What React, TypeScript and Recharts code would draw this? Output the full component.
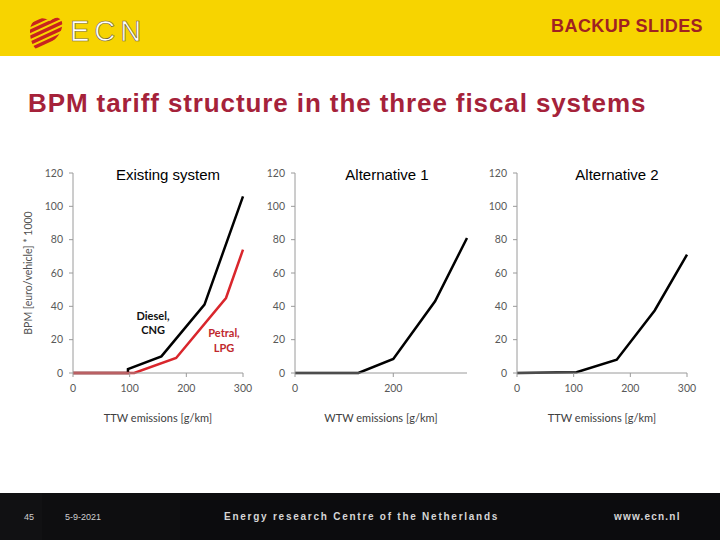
import { LineChart, Line, XAxis, YAxis } from 'recharts'

// Existing system (TTW, g/km -> BPM k euro)
const dieselX = [0, 97, 97, 156, 232, 300]
const dieselY = [0, 0, 2.4, 10, 41, 106]
const petrolX = [0, 108, 182, 270, 300]
const petrolY = [0, 0, 9, 45, 74]

// Alternative 1 (WTW)
const alt1X = [0, 129, 200, 285, 350]
const alt1Y = [0, 0, 8.4, 43, 81]

// Alternative 2 (TTW)
const alt2X = [0, 105, 176, 243, 300]
const alt2Y = [0, 0.5, 8, 37.5, 71]

const yTicks = [0, 20, 40, 60, 80, 100, 120]
const ttwTicks = [0, 100, 200, 300]
const wtwTicks = [0, 200]

const FONT = 'Liberation Sans, Arial, sans-serif'
const AXIS_FONT = 'Lato, Open Sans, sans-serif'
const RED = '#d9262c'
const MAROON = '#a5223a'

function toPoints(xs: number[], ys: number[]) {
  return xs.map((x, i) => ({ x, y: ys[i] }))
}

interface Series {
  data: { x: number; y: number }[]
  color: string
}

interface PanelProps {
  left: number
  plotLeft: number
  plotRight: number
  rightPad: number
  xMax: number
  xTicks: number[]
  xLabel: string
  yLabel?: string
  series: Series[]
}

function Panel({ left, plotLeft, plotRight, rightPad, xMax, xTicks, xLabel, yLabel, series }: PanelProps) {
  const width = plotRight - left + rightPad
  const tick = { fill: '#595959', fontSize: 10.5, fontFamily: AXIS_FONT }
  return (
    <div style={{ position: 'absolute', left, top: 160 }}>
      <LineChart width={width} height={270} margin={{ top: 13, right: rightPad, left: 0, bottom: 0 }}>
        <XAxis
          type="number"
          dataKey="x"
          domain={[0, xMax]}
          ticks={xTicks}
          allowDuplicatedCategory={false}
          height={57}
          stroke="#9a9a9a"
          tickSize={4}
          tickMargin={8}
          tick={tick}
          label={{ value: xLabel, position: 'insideBottom', offset: 8, fill: '#404040', fontSize: 11, fontFamily: AXIS_FONT }}
        />
        <YAxis
          type="number"
          dataKey="y"
          domain={[0, 120]}
          ticks={yTicks}
          width={plotLeft - left}
          stroke="#9a9a9a"
          tickSize={4}
          tickMargin={6}
          tick={tick}
          label={
            yLabel
              ? { value: yLabel, angle: -90, position: 'insideLeft', offset: 8, fill: '#505050', fontSize: 10.5, fontFamily: AXIS_FONT, style: { textAnchor: 'middle' } }
              : undefined
          }
        />
        {series.map((s, i) => (
          <Line
            key={i}
            data={s.data}
            dataKey="y"
            type="linear"
            stroke={s.color}
            strokeWidth={2.5}
            dot={false}
            isAnimationActive={false}
          />
        ))}
      </LineChart>
    </div>
  )
}

function Logo() {
  const stripes = [0, 1, 2, 3, 4, 5, 6]
  return (
    <svg width={130} height={45} style={{ position: 'absolute', left: 22, top: 9 }}>
      <defs>
        <clipPath id="heart">
          <path d="M8 22 C8 10 20 6 28 12 C33 6 42 8 40 18 C38 30 24 38 14 40 C10 36 8 30 8 22 Z" />
        </clipPath>
      </defs>
      <g clipPath="url(#heart)">
        {stripes.map((i) => (
          <line key={i} x1={0} y1={44 - i * 6} x2={48} y2={22 - i * 6} stroke="#c8231f" strokeWidth={3.4} />
        ))}
      </g>
      <text x={48} y={32} fontFamily={FONT} fontSize={29} letterSpacing={5} fill="#ffffff" stroke="#7a6a30" strokeWidth={0.7}>
        ECN
      </text>
    </svg>
  )
}

export default function App() {
  const txt = (s: React.CSSProperties): React.CSSProperties => ({ position: 'absolute', fontFamily: FONT, whiteSpace: 'nowrap', ...s })
  return (
    <div style={{ position: 'absolute', left: 0, top: 0, width: 720, height: 540, background: '#ffffff', overflow: 'hidden' }}>
      <div style={{ position: 'absolute', left: 0, top: 0, width: 720, height: 56, background: '#f7d400' }} />
      <Logo />
      <div style={txt({ right: 17, top: 16, fontSize: 18, fontWeight: 'bold', letterSpacing: 0.4, color: '#a02222' })}>BACKUP SLIDES</div>
      <div style={txt({ left: 28, top: 88, fontSize: 26, fontWeight: 'bold', letterSpacing: 0.9, color: MAROON })}>
        BPM tariff structure in the three fiscal systems
      </div>

      <div style={txt({ left: 168, top: 166, fontSize: 15, transform: 'translateX(-50%)' })}>Existing system</div>
      <div style={txt({ left: 387, top: 166, fontSize: 15, transform: 'translateX(-50%)' })}>Alternative 1</div>
      <div style={txt({ left: 617, top: 166, fontSize: 15, transform: 'translateX(-50%)' })}>Alternative 2</div>

      <Panel
        left={20}
        plotLeft={73}
        plotRight={243}
        rightPad={10}
        xMax={300}
        xTicks={ttwTicks}
        xLabel="TTW emissions [g/km]"
        yLabel="BPM [euro/vehicle] * 1000"
        series={[
          { data: toPoints(dieselX, dieselY), color: '#000000' },
          { data: toPoints(petrolX, petrolY), color: RED },
        ]}
      />
      <Panel
        left={262}
        plotLeft={295}
        plotRight={467}
        rightPad={8}
        xMax={350}
        xTicks={wtwTicks}
        xLabel="WTW emissions [g/km]"
        series={[{ data: toPoints(alt1X, alt1Y), color: '#000000' }]}
      />
      <Panel
        left={482}
        plotLeft={517}
        plotRight={687}
        rightPad={10}
        xMax={300}
        xTicks={ttwTicks}
        xLabel="TTW emissions [g/km]"
        series={[{ data: toPoints(alt2X, alt2Y), color: '#000000' }]}
      />

      <div style={txt({ left: 153, top: 309, fontSize: 11, fontWeight: 'bold', fontFamily: AXIS_FONT, color: '#111', textAlign: 'center', lineHeight: '14px', transform: 'translateX(-50%)' })}>
        Diesel,<br />CNG
      </div>
      <div style={txt({ left: 224, top: 325, fontSize: 11, fontWeight: 'bold', fontFamily: AXIS_FONT, color: '#c0272d', textAlign: 'center', lineHeight: '15px', transform: 'translateX(-50%)' })}>
        Petral,<br />LPG
      </div>

      <div style={{ position: 'absolute', left: 0, top: 493, width: 720, height: 47, background: '#0c0c0e' }} />
      <div style={{ position: 'absolute', left: 0, top: 493, width: 42, height: 47, background: '#111113' }} />
      <div style={{ position: 'absolute', left: 42, top: 493, width: 138, height: 47, background: '#0e0e10' }} />
      <div style={txt({ left: 24, top: 512, fontSize: 9, color: '#cfcfcf' })}>45</div>
      <div style={txt({ left: 65, top: 512, fontSize: 9, color: '#cfcfcf' })}>5-9-2021</div>
      <div style={txt({ left: 224, top: 511, fontSize: 10, fontWeight: 'bold', letterSpacing: 1.75, color: '#d6d6d6' })}>
        Energy research Centre of the Netherlands
      </div>
      <div style={txt({ left: 614, top: 511, fontSize: 10, fontWeight: 'bold', letterSpacing: 1.2, color: '#d6d6d6' })}>www.ecn.nl</div>
    </div>
  )
}
